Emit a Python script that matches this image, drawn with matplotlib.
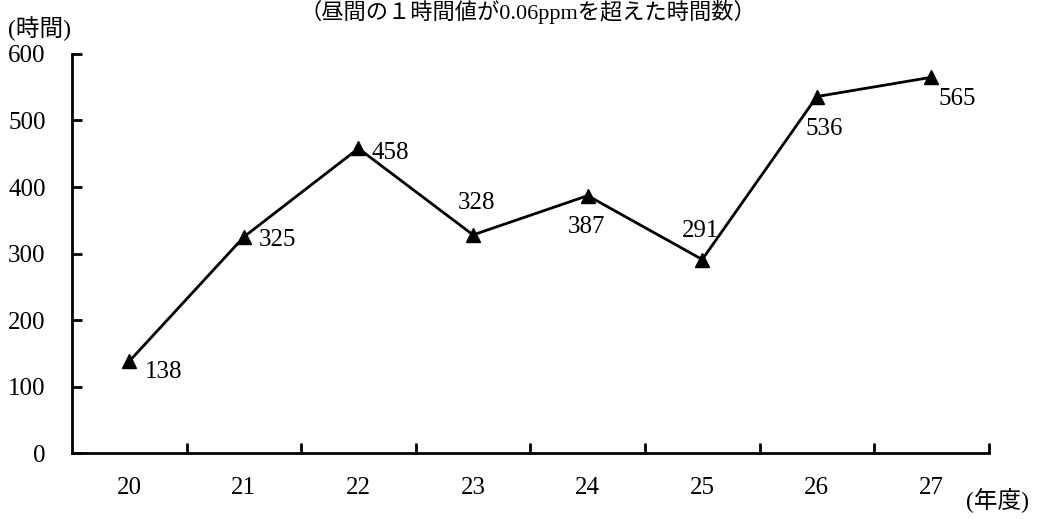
import matplotlib.pyplot as plt

plt.rcParams["font.family"] = ["Liberation Serif", "Noto Sans CJK JP"]

years = ["20", "21", "22", "23", "24", "25", "26", "27"]
hours = [138, 325, 458, 328, 387, 291, 536, 565]
y_ticks = [0, 100, 200, 300, 400, 500, 600]

# label offsets (pixels) of the left edge / vertical centre relative to each marker
label_offsets = [(16, -11), (15, -3), (13, -5), (-15, 32), (-20, -31), (-20, 29), (-11, -32), (7, -22)]

TITLE = "（昼間の１時間値が0.06ppmを超えた時間数）"


def main():
    fig = plt.figure(figsize=(10.43, 5.19), dpi=100)
    ax = fig.add_axes([0.069, 0.127, 0.879, 0.769])

    x = list(range(len(years)))
    ax.plot(x, hours, color="black", linewidth=2, marker="^", markersize=10, clip_on=False)

    for xi, val, (dx, dy) in zip(x, hours, label_offsets):
        ax.annotate(str(val), (xi, val), xytext=(dx, dy), textcoords="offset pixels",
                    fontsize=18, ha="left", va="center")

    ax.set_xlim(-0.5, len(years) - 0.5)
    ax.set_ylim(0, 600)
    ax.set_yticks(y_ticks)
    ax.set_yticklabels([str(v) for v in y_ticks], fontsize=18)

    ax.set_xticks(x)
    ax.set_xticklabels(years, fontsize=18)
    ax.tick_params(axis="x", which="major", length=0, pad=17)
    ax.set_xticks([i + 0.5 for i in x], minor=True)
    ax.tick_params(axis="x", which="minor", direction="in", length=7, width=2)
    ax.tick_params(axis="y", direction="in", length=7, width=2, pad=19)

    for side in ["top", "right"]:
        ax.spines[side].set_visible(False)
    for side in ["left", "bottom"]:
        ax.spines[side].set_linewidth(2)

    fig.text(0.506, 1.0, TITLE, fontsize=16, ha="center", va="top")
    fig.text(0.008, 0.945, "(時間)", fontsize=17, ha="left", va="center")
    fig.text(0.926, 0.035, "(年度)", fontsize=17, ha="left", va="center")

    fig.savefig("out.png", dpi=100)
    plt.close(fig)


if __name__ == "__main__":
    main()
